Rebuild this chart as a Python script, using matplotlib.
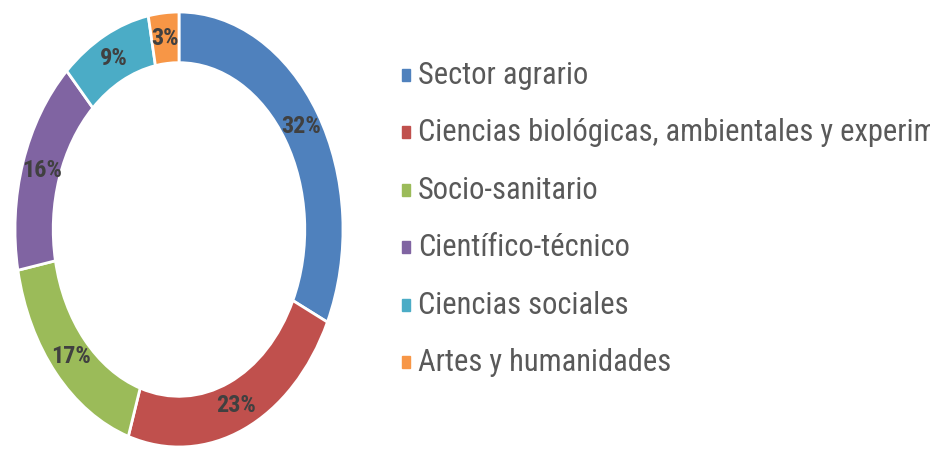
import matplotlib
matplotlib.use("Agg")
import matplotlib.pyplot as plt
from matplotlib.patches import Rectangle

# Data
categories = ["Sector agrario",
              "Ciencias biológicas, ambientales y experimentales",
              "Socio-sanitario",
              "Científico-técnico",
              "Ciencias sociales",
              "Artes y humanidades"]
shares = [32, 23, 17, 16, 9, 3]
colors = ["#4F81BD", "#C0504D", "#9BBB59", "#8064A2", "#4BACC6", "#F79646"]

# condensed face imitates the vertically stretched text of the original
family = ["Roboto Condensed", "Liberation Sans", "DejaVu Sans"]

W, H = 930, 451
fig = plt.figure(figsize=(W / 100, H / 100), dpi=100)

# donut occupies x 15..343, y 12..447 (pixels)
ax = fig.add_axes([15 / W, (H - 447) / H, 328 / W, 435 / H])
wedges, _, pcts = ax.pie(shares, colors=colors, startangle=90, counterclock=False,
                         radius=1, autopct="%1.0f%%", pctdistance=0.88,
                         wedgeprops=dict(width=0.233, edgecolor="white", linewidth=2))
for t in pcts:
    t.set_family(family)
    t.set_fontsize(17.5)
    t.set_fontweight("bold")
    t.set_color("#404040")
ax.set_aspect("auto")
ax.set_xlim(-1, 1)
ax.set_ylim(-1, 1)
ax.axis("off")

# Legend drawn by hand so rows line up with the reference
base0 = 84
step = 57.4
for i, (name, c) in enumerate(zip(categories, colors)):
    yb = base0 + step * i
    fig.patches.append(Rectangle((402 / W, (H - yb + 3) / H), 8 / W, 12 / H,
                                 transform=fig.transFigure, color=c))
    fig.text(418 / W, (H - yb) / H, name, family=family, fontsize=22,
             color="#595959", va="baseline", ha="left")

fig.savefig("out.png", dpi=100)
